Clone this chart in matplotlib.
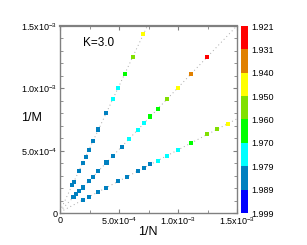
import numpy as np
import matplotlib
matplotlib.use("Agg")
import matplotlib.pyplot as plt
from matplotlib.colors import ListedColormap, BoundaryNorm
from matplotlib.ticker import MultipleLocator, FixedLocator, FixedFormatter

plt.rcParams['font.family'] = ['Liberation Sans', 'DejaVu Sans']
plt.rcParams['mathtext.default'] = 'regular'

# series A (steepest)
invN_a = [1.02e-4, 1.19e-4, 1.61e-4, 1.92e-4, 2.18e-4, 2.43e-4, 2.80e-4, 3.25e-4,
          3.92e-4, 4.49e-4, 4.94e-4, 5.48e-4, 6.16e-4, 7.06e-4]
invM_a = [2.25e-4, 2.51e-4, 3.37e-4, 4.03e-4, 4.49e-4, 5.05e-4, 5.75e-4, 6.70e-4,
          8.05e-4, 9.12e-4, 1.000e-3, 1.117e-3, 1.254e-3, 1.433e-3]
val_a = [1.988, 1.987, 1.986, 1.985, 1.984, 1.983, 1.982, 1.981, 1.980,
         1.976, 1.972, 1.965, 1.955, 1.945]

# series B (middle)
invN_b = [1.14e-4, 1.37e-4, 1.61e-4, 1.92e-4, 2.43e-4, 2.81e-4, 3.25e-4, 3.94e-4,
          4.51e-4, 5.23e-4, 5.83e-4, 6.63e-4, 7.12e-4, 7.65e-4, 8.29e-4, 9.07e-4,
          9.98e-4, 1.108e-3, 1.246e-3]
invM_b = [1.28e-4, 1.54e-4, 1.75e-4, 2.05e-4, 2.55e-4, 2.87e-4, 3.38e-4, 4.05e-4,
          4.59e-4, 5.29e-4, 5.92e-4, 6.69e-4, 7.19e-4, 7.74e-4, 8.37e-4, 9.12e-4,
          1.001e-3, 1.115e-3, 1.254e-3]
val_b = [1.988, 1.987, 1.987, 1.986, 1.985, 1.984, 1.983, 1.982, 1.981, 1.980,
         1.977, 1.974, 1.971, 1.967, 1.962, 1.955, 1.945, 1.935, 1.925]

# series C (shallowest)
invN_c = [1.92e-4, 2.43e-4, 3.25e-4, 3.92e-4, 4.94e-4, 5.68e-4, 6.61e-4, 7.09e-4,
          7.65e-4, 8.28e-4, 9.07e-4, 9.97e-4, 1.108e-3, 1.246e-3, 1.331e-3, 1.424e-3]
invM_c = [1.04e-4, 1.26e-4, 1.71e-4, 2.03e-4, 2.54e-4, 2.89e-4, 3.37e-4, 3.63e-4,
          3.91e-4, 4.19e-4, 4.60e-4, 5.05e-4, 5.59e-4, 6.31e-4, 6.71e-4, 7.16e-4]
val_c = [1.988, 1.987, 1.986, 1.986, 1.985, 1.984, 1.983, 1.982, 1.980,
         1.977, 1.974, 1.971, 1.965, 1.958, 1.953, 1.947]

levels = [1.921, 1.931, 1.940, 1.950, 1.960, 1.970, 1.979, 1.989, 1.999]
level_labels = ['1.921', '1.931', '1.940', '1.950', '1.960', '1.970', '1.979', '1.989', '1.999']
bin_colors = ['#ff0000', '#e08000', '#ffff00', '#80e000', '#00ff00', '#00ffff', '#0080c0', '#0000ff']

xtick_labels = ['0', '5.0x10$^{-4}$', '1.0x10$^{-3}$', '1.5x10$^{-3}$']
ytick_labels = ['0', '5.0x10$^{-4}$', '1.0x10$^{-3}$', '1.5x10$^{-3}$']

cmap = ListedColormap(bin_colors)
norm = BoundaryNorm(levels, cmap.N)

fig = plt.figure(figsize=(3.07, 2.45), dpi=100)
ax = fig.add_axes([60 / 307, 1 - 213 / 245, 177 / 307, 187 / 245])
cax = fig.add_axes([241 / 307, 1 - 213 / 245, 6.5 / 307, 187 / 245])

xs = np.array([0, 1.5e-3])
for xn, ym in [(invN_a, invM_a), (invN_b, invM_b), (invN_c, invM_c)]:
    k, b = np.polyfit(xn, ym, 1)
    ax.plot(xs, k * xs + b, color='#a8a8a8', lw=0.7, ls=(0, (1, 3)), zorder=1)

for xn, ym, v in [(invN_a, invM_a, val_a), (invN_b, invM_b, val_b), (invN_c, invM_c, val_c)]:
    ax.scatter(xn, ym, c=v, cmap=cmap, norm=norm, marker='s', s=9, linewidths=0, zorder=2)

ax.set_xlim(0, 1.5e-3)
ax.set_ylim(0, 1.5e-3)
ticks = [0, 5e-4, 1e-3, 1.5e-3]
ax.xaxis.set_major_locator(FixedLocator(ticks))
ax.yaxis.set_major_locator(FixedLocator(ticks))
ax.xaxis.set_major_formatter(FixedFormatter(xtick_labels))
ax.yaxis.set_major_formatter(FixedFormatter(ytick_labels))
ax.xaxis.set_minor_locator(MultipleLocator(2.5e-4))
ax.yaxis.set_minor_locator(MultipleLocator(1e-4))
ax.tick_params(which='both', direction='in', top=True, right=True, color='#808080',
               labelsize=6.5, pad=2)
ax.tick_params(which='major', length=3)
ax.tick_params(which='minor', length=2)
for sp in ax.spines.values():
    sp.set_color('#808080')
    sp.set_linewidth(1.0)
ax.spines['top'].set_linewidth(1.6)

ax.text(0.13, 0.91, 'K=3.0', transform=ax.transAxes, fontsize=8.5, ha='left', va='center')
fig.text(32 / 307, 1 - 118 / 245, '1/M', fontsize=9, ha='center', va='center')
fig.text(148 / 307, 1 - 232 / 245, '1/N', fontsize=9, ha='center', va='center')

cb = fig.colorbar(plt.cm.ScalarMappable(norm=norm, cmap=cmap), cax=cax,
                  boundaries=levels, ticks=levels)
cb.ax.set_yticklabels(level_labels)
cb.ax.invert_yaxis()
cb.outline.set_visible(False)
cb.ax.tick_params(length=0, labelsize=6.5, pad=3)

fig.savefig('out.png', dpi=100)
